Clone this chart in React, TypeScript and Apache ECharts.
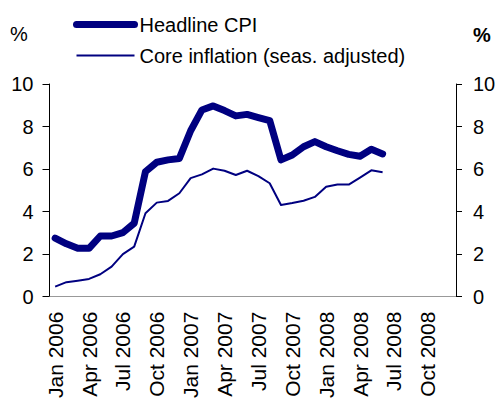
import React, { useEffect, useRef } from "react";
import * as echarts from "echarts";

const months = ["Jan", "Feb", "Mar", "Apr", "May", "Jun", "Jul", "Aug", "Sep", "Oct", "Nov", "Dec"];
const years = [2006, 2007, 2008];
const categories: string[] = [];
years.forEach((y) => months.forEach((m) => categories.push(`${m} ${y}`)));

const headlineCPI = [2.75, 2.48, 2.27, 2.27, 2.85, 2.85, 3.01, 3.45, 5.88, 6.32, 6.43, 6.5, 7.8, 8.78, 8.97, 8.75, 8.5, 8.57, 8.42, 8.28, 6.43, 6.66, 7.05, 7.29, 7.05, 6.86, 6.69, 6.6, 6.93, 6.71];
const coreInflation = [0.47, 0.68, 0.75, 0.83, 1.05, 1.41, 2.0, 2.35, 3.92, 4.42, 4.5, 4.86, 5.57, 5.75, 6.02, 5.92, 5.72, 5.92, 5.67, 5.33, 4.31, 4.4, 4.51, 4.69, 5.17, 5.27, 5.27, 5.6, 5.94, 5.85];

const FONT = "'Liberation Sans', Arial, sans-serif";
const NAVY = "#000080";

export default function App() {
  const ref = useRef<HTMLDivElement>(null);
  useEffect(() => {
    if (!ref.current) return;
    const chart = echarts.init(ref.current, null, { renderer: "svg" });
    const yAxisBase = {
      type: "value",
      min: 0,
      max: 10,
      interval: 2,
      splitLine: { show: false },
      axisLine: { show: true, lineStyle: { color: "#000", width: 1 } },
      axisTick: { show: true, length: 7, lineStyle: { color: "#000" } },
    };
    chart.setOption({
      animation: false,
      textStyle: { fontFamily: FONT },
      grid: { left: 49.5, right: 43, top: 84, bottom: 104, containLabel: false },
      legend: {
        orient: "vertical",
        left: 68,
        top: 9.5,
        itemWidth: 58,
        itemHeight: 14,
        itemGap: 11,
        lineStyle: { width: "inherit" },
        itemStyle: { opacity: 0 },
        textStyle: { fontFamily: FONT, fontSize: 20, color: "#000", lineHeight: 20 },
        data: ["Headline CPI", "Core inflation (seas. adjusted)"],
      },
      xAxis: [
        {
          type: "category",
          data: categories,
          boundaryGap: true,
          position: "bottom",
          axisLine: { show: true, lineStyle: { color: "#000", width: 1 } },
          axisTick: { show: false },
          axisLabel: {
            interval: 2,
            rotate: 90,
            margin: 15,
            fontSize: 21,
            color: "#000",
            fontFamily: FONT,
          },
        },
        {
          type: "category",
          data: categories,
          position: "top",
          axisLine: { show: true, lineStyle: { color: "#999", width: 1 } },
          axisTick: { show: false },
          axisLabel: { show: false },
        },
      ],
      yAxis: [
        {
          ...yAxisBase,
          position: "left",
          axisLabel: { margin: 16, fontSize: 20, color: "#000", fontFamily: FONT },
        },
        {
          ...yAxisBase,
          position: "right",
          axisTick: { show: true, length: 6, lineStyle: { color: "#000" } },
          axisLabel: { margin: 17, fontSize: 20, color: "#000", fontFamily: FONT },
        },
      ],
      graphic: [
        { type: "text", left: 10, top: 24, style: { text: "%", font: `20px ${FONT}`, fill: "#000" } },
        { type: "text", left: 473, top: 25, style: { text: "%", font: `bold 20px ${FONT}`, fill: "#000" } },
      ],
      series: [
        {
          name: "Headline CPI",
          type: "line",
          data: headlineCPI,
          showSymbol: false,
          symbol: "none",
          lineStyle: { color: NAVY, width: 7, cap: "round", join: "round" },
          itemStyle: { color: NAVY },
        },
        {
          name: "Core inflation (seas. adjusted)",
          type: "line",
          data: coreInflation,
          showSymbol: false,
          symbol: "none",
          lineStyle: { color: NAVY, width: 2, join: "round" },
          itemStyle: { color: NAVY },
        },
      ],
    });
    return () => chart.dispose();
  }, []);
  return (
    <div style={{ position: "absolute", left: 0, top: 0, width: 499, height: 401, background: "#fff" }}>
      <div ref={ref} style={{ width: 499, height: 401 }} />
    </div>
  );
}
